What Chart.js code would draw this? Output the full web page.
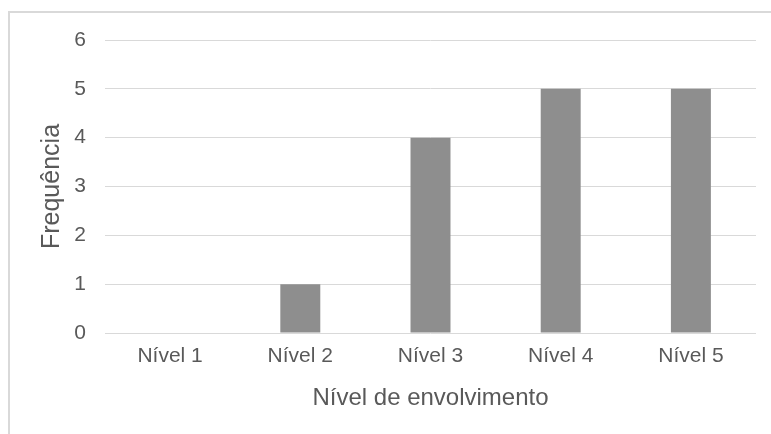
<!DOCTYPE html>
<html>
<head>
<meta charset="utf-8">
<script src="https://cdn.jsdelivr.net/npm/chart.js@4"></script>
<style>
  html, body { margin: 0; padding: 0; background: #fff; overflow: hidden; }
  #wrap { position: relative; width: 771px; height: 434px; }
  #frame { position: absolute; left: 8px; top: 11px; width: 900px; height: 600px; border: 2px solid #d9d9d9; box-sizing: border-box; }
  canvas { position: absolute; left: 0; top: 0; }
</style>
</head>
<body>
<div id="wrap">
  <div id="frame"></div>
  <canvas id="chart"></canvas>
</div>
<script>
// dados
const niveis = ["Nível 1", "Nível 2", "Nível 3", "Nível 4", "Nível 5"];
const frequencia = [0, 1, 4, 5, 5];
const yTicks = [0, 1, 2, 3, 4, 5, 6];

const textColor = "#595959";
const gridColor = "#d9d9d9";
const fontFamily = "Arial, 'Liberation Sans', sans-serif";

new Chart(document.getElementById("chart"), {
  type: "bar",
  data: {
    labels: niveis,
    datasets: [{
      label: "Frequência",
      data: frequencia,
      backgroundColor: "#8e8e8e",
      borderWidth: 0,
      barPercentage: 0.307,
      categoryPercentage: 1
    }]
  },
  options: {
    responsive: true,
    maintainAspectRatio: false,
    animation: false,
    layout: { padding: { left: 0, top: 40, right: 15, bottom: 0 } },
    plugins: {
      legend: { display: false },
      tooltip: { enabled: false }
    },
    scales: {
      x: {
        grid: { display: false, drawTicks: false },
        border: { display: false },
        ticks: { color: textColor, font: { family: fontFamily, size: 21 }, padding: 11 },
        title: {
          display: true,
          text: "Nível de envolvimento",
          color: textColor,
          font: { family: fontFamily, size: 24 },
          padding: { top: 0, bottom: 21 }
        },
        afterFit: (scale) => { scale.height = 101; }
      },
      y: {
        min: 0,
        max: 6,
        afterBuildTicks: (scale) => { scale.ticks = yTicks.map(v => ({ value: v })); },
        grid: { color: gridColor, lineWidth: 1, drawTicks: false },
        border: { display: false },
        ticks: { color: textColor, font: { family: fontFamily, size: 21 }, padding: 19 },
        title: {
          display: true,
          text: "Frequência",
          color: textColor,
          font: { family: fontFamily, size: 25 },
          padding: { top: 37, bottom: 0 }
        },
        afterFit: (scale) => { scale.width = 105; }
      }
    }
  }
});
</script>
</body>
</html>
